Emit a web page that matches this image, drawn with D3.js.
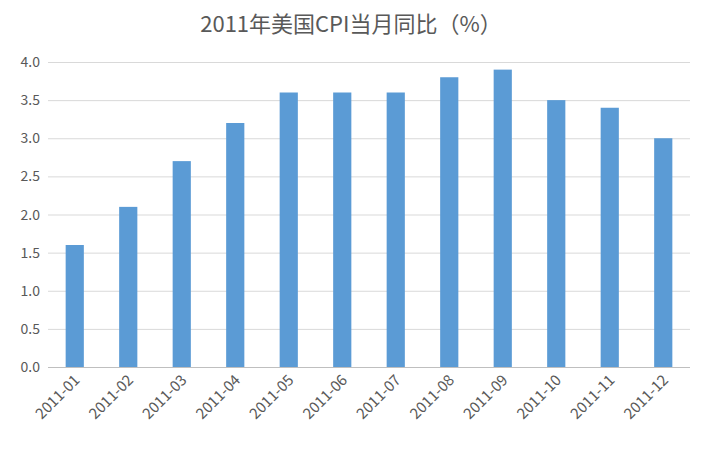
<html>
<head>
<meta charset="utf-8">
<style>
body{margin:0;background:#fff;}
text{font-family:"Noto Sans CJK SC","DejaVu Sans",sans-serif;fill:#595959;}
</style>
<script src="https://cdnjs.cloudflare.com/ajax/libs/d3/7.8.5/d3.min.js"></script>
</head>
<body>
<svg id="chart" width="702" height="461"></svg>
<script>
var months=["2011-01","2011-02","2011-03","2011-04","2011-05","2011-06","2011-07","2011-08","2011-09","2011-10","2011-11","2011-12"];
var cpi=[1.6,2.1,2.7,3.2,3.6,3.6,3.6,3.8,3.9,3.5,3.4,3.0];
var yTicks=[0,0.5,1,1.5,2,2.5,3,3.5,4];

var svg=d3.select("#chart");
var mLeft=48,mRight=690,mTop=62,mBottom=367;
var x=d3.scaleBand().domain(months).range([mLeft,mRight]).paddingInner(0.66).paddingOuter(0.33);
var y=d3.scaleLinear().domain([0,4]).range([mBottom,mTop]);

svg.append("text").attr("x",351).attr("y",32).attr("text-anchor","middle")
   .style("font-size","22px").text("2011年美国CPI当月同比（%）");

svg.selectAll(".grid").data(yTicks).enter().append("line")
   .attr("x1",mLeft).attr("x2",mRight)
   .attr("y1",function(d){return y(d)+0.5}).attr("y2",function(d){return y(d)+0.5})
   .attr("stroke",function(d){return d==0?"#bfbfbf":"#d9d9d9"});

svg.selectAll(".yl").data(yTicks).enter().append("text")
   .attr("x",mLeft-8).attr("y",function(d){return y(d)+5})
   .attr("text-anchor","end").style("font-size","14px")
   .text(function(d){return d.toFixed(1)});

svg.selectAll(".bar").data(cpi).enter().append("rect")
   .attr("x",function(d,i){return x(months[i])})
   .attr("width",x.bandwidth())
   .attr("y",function(d){return y(d)})
   .attr("height",function(d){return mBottom-y(d)})
   .attr("fill","#5b9bd5");

svg.selectAll(".xl").data(months).enter().append("text")
   .attr("transform",function(d){return "translate("+(x(d)+x.bandwidth()/2+6)+","+(mBottom+14)+") rotate(-45)"})
   .attr("text-anchor","end").style("font-size","15px")
   .text(function(d){return d});
</script>
</body>
</html>
